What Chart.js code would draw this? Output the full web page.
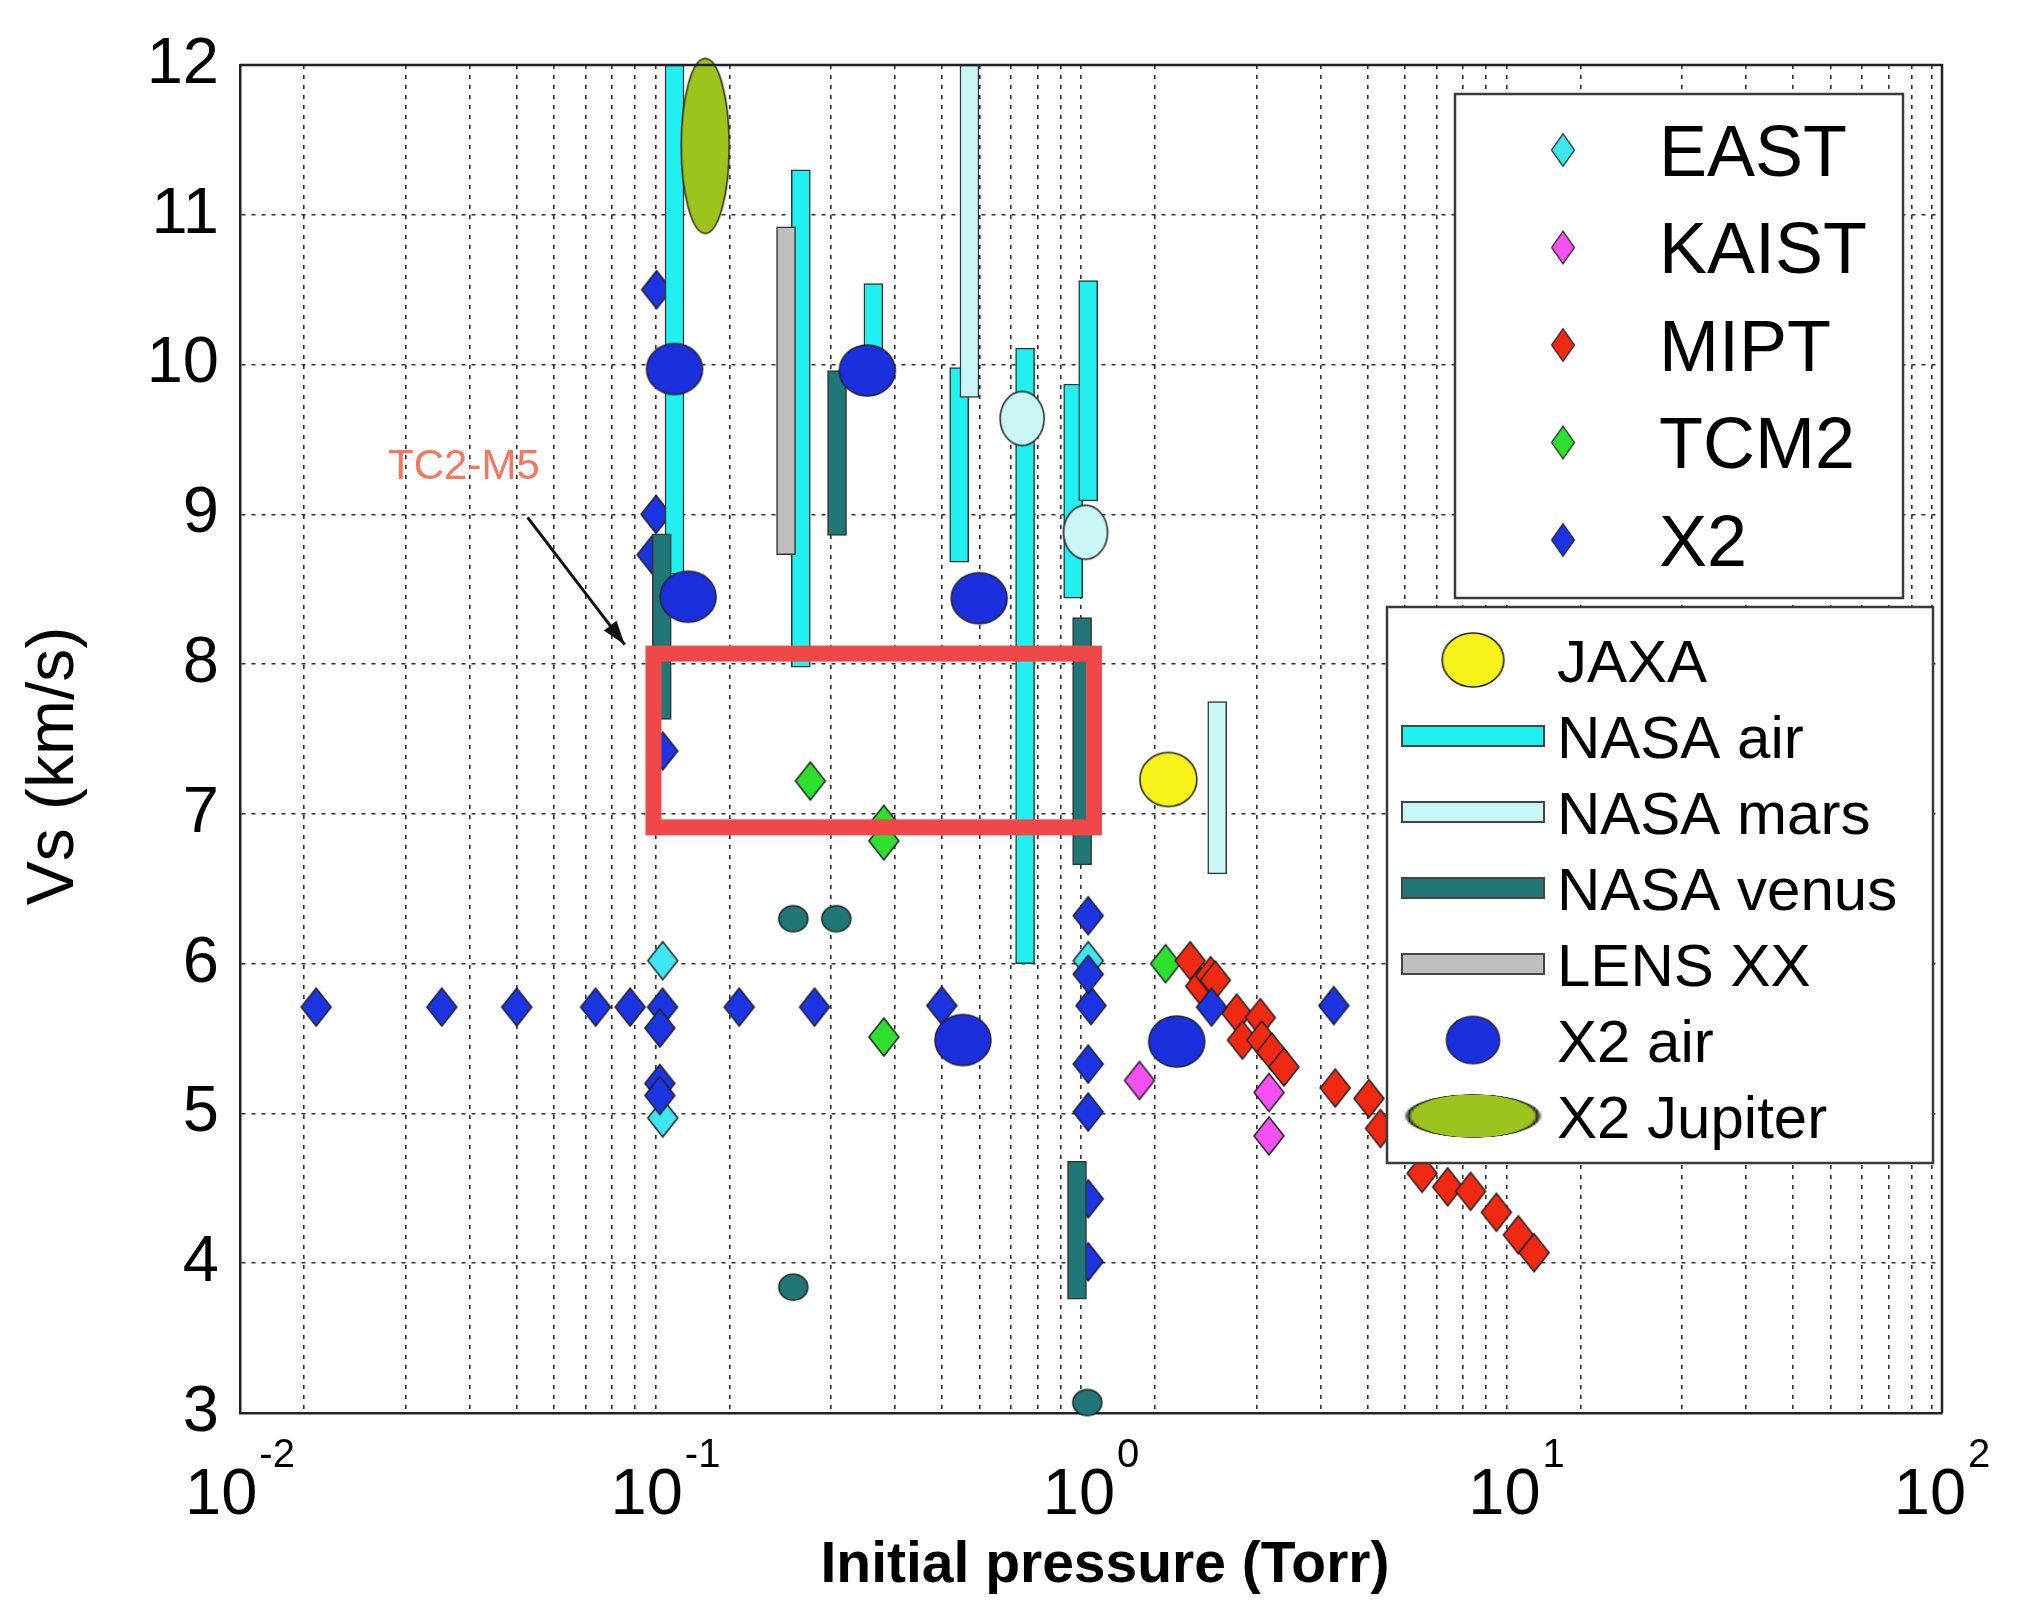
<!DOCTYPE html>
<html>
<head>
<meta charset="utf-8">
<script src="https://cdn.jsdelivr.net/npm/chart.js@4.4.0/dist/chart.umd.min.js"></script>
<style>
  html, body { margin: 0; padding: 0; background: #fff; }
  canvas { display: block; }
</style>
</head>
<body>
<canvas id="chart" width="2023" height="1612"></canvas>
<script>
// Values: initial pressure (Torr) vs shock speed Vs (km/s)
const eastP = [0.0985, 0.0985, 0.985];
const eastV = [6.02, 4.97, 6.02];

const kaistP = [1.30, 2.62, 2.62];
const kaistV = [5.22, 5.14, 4.85];

const miptP = [1.71, 1.81, 1.91, 1.96, 2.20, 2.27, 2.50, 2.52, 2.66, 2.84, 3.75, 4.50, 4.79, 6.0, 6.89, 7.80, 8.97, 10.1, 11.0];
const miptV = [6.02, 5.85, 5.92, 5.89, 5.67, 5.49, 5.64, 5.49, 5.41, 5.31, 5.17, 5.10, 4.90, 4.60, 4.51, 4.48, 4.34, 4.19, 4.07];

const tcm2P = [0.219, 0.326, 0.326, 0.326, 1.497];
const tcm2V = [7.22, 6.93, 6.82, 5.51, 6.0];

const x2P = [0.0151, 0.0298, 0.0447, 0.0685, 0.0826, 0.0984, 0.149, 0.224, 0.446, 1.0, 1.92, 3.72,
             0.097, 0.097, 0.097, 0.0985, 0.093, 0.095, 0.0953,
             0.985, 0.985, 0.985, 0.985, 0.985, 0.985];
const x2V = [5.71, 5.71, 5.71, 5.71, 5.71, 5.71, 5.71, 5.71, 5.72, 5.72, 5.71, 5.72,
             5.57, 5.20, 5.12, 7.42, 8.73, 9.0, 10.5,
             6.32, 5.93, 5.33, 5.01, 4.43, 4.01];

const jaxaP = [1.52];
const jaxaV = [7.23];

const x2AirP = [0.105, 0.113, 0.298, 0.546, 0.50, 1.59];
const x2AirV = [9.97, 8.45, 9.96, 8.44, 5.49, 5.48];

const jupiterP = [0.124];
const jupiterV = [11.46];

// NASA mars single points (pale ellipses) and NASA venus single points (teal dots)
const marsPtP = [0.689, 0.971];
const marsPtV = [9.64, 8.88];
const venusPtP = [0.1997, 0.252, 0.1997, 0.98];
const venusPtV = [6.30, 6.30, 3.84, 3.07];

// Vs ranges drawn as vertical bars
const nasaAirP = [0.105, 0.208, 0.308, 0.49, 0.70, 0.908, 0.985];
const nasaAirLo = [8.6, 7.98, 10.0, 8.68, 6.0, 8.44, 9.09];
const nasaAirHi = [12, 11.30, 10.54, 9.98, 10.11, 9.87, 10.56];

const nasaMarsP = [0.518, 1.98];
const nasaMarsLo = [9.78, 6.60];
const nasaMarsHi = [12, 7.75];

const nasaVenusP = [0.098, 0.253, 0.953, 0.927];
const nasaVenusLo = [7.63, 8.86, 6.66, 3.76];
const nasaVenusHi = [8.87, 9.96, 8.31, 4.68];

const lensP = [0.192];
const lensLo = [8.73];
const lensHi = [10.92];

// highlighted TC2-M5 window
const boxP = [0.0937, 1.016];
const boxV = [6.91, 8.07];

const xDecades = [-2, -1, 0, 1, 2];
const legendA = ['EAST', 'KAIST', 'MIPT', 'TCM2', 'X2'];
const legendB = ['JAXA', 'NASA air', 'NASA mars', 'NASA venus', 'LENS XX', 'X2 air', 'X2 Jupiter'];

const FONT = "'Liberation Sans', Arial, Helvetica, sans-serif";

// marker images (MATLAB markers are not square, so draw them ourselves)
function marker(kind, w, h, fill) {
  const c = document.createElement('canvas');
  c.width = w + 4;
  c.height = h + 4;
  const g = c.getContext('2d');
  g.beginPath();
  if (kind === 'diamond') {
    g.moveTo(c.width / 2, 2);
    g.lineTo(c.width - 2, c.height / 2);
    g.lineTo(c.width / 2, c.height - 2);
    g.lineTo(2, c.height / 2);
    g.closePath();
  } else {
    g.ellipse(c.width / 2, c.height / 2, w / 2, h / 2, 0, 0, Math.PI * 2);
  }
  g.fillStyle = fill;
  g.fill();
  g.lineWidth = 1.5;
  g.strokeStyle = '#222';
  g.stroke();
  return c;
}

const colors = {
  east: '#3fe6f0', kaist: '#f550f2', mipt: '#f02a12', tcm2: '#2ee02e', x2: '#1c34e2',
  jaxa: '#f7f21a', air: '#22f0f0', mars: '#c9f6f6', venus: '#217777', lens: '#bfbfbf',
  x2air: '#1c2fdc', jupiter: '#9cc41c'
};

function pts(xs, ys) {
  return xs.map((x, i) => ({ x: x, y: ys[i] }));
}
function ranges(xs, lo, hi) {
  return xs.map((x, i) => ({ x: x, y: [lo[i], hi[i]] }));
}
function scatterSet(label, xs, ys, img) {
  return { type: 'scatter', label: label, data: pts(xs, ys), pointStyle: img,
           pointRadius: 10, pointHoverRadius: 10, clip: false };
}
function barSet(label, xs, lo, hi, color) {
  return { type: 'bar', label: label, data: ranges(xs, lo, hi), backgroundColor: color,
           borderColor: '#333', borderWidth: 1.5, borderSkipped: false,
           barThickness: 19, grouped: false };
}

// index 0 is drawn on top
const datasets = [
  scatterSet('X2 air', x2AirP, x2AirV, marker('ellipse', 56, 51, colors.x2air)),
  scatterSet('NASA mars points', marsPtP, marsPtV, marker('ellipse', 44, 54, colors.mars)),
  scatterSet('JAXA', jaxaP, jaxaV, marker('ellipse', 57, 54, colors.jaxa)),
  scatterSet('NASA venus points', venusPtP, venusPtV, marker('ellipse', 29, 26, colors.venus)),
  scatterSet('X2 Jupiter', jupiterP, jupiterV, marker('ellipse', 48, 175, colors.jupiter)),
  barSet('NASA venus', nasaVenusP, nasaVenusLo, nasaVenusHi, colors.venus),
  barSet('LENS XX', lensP, lensLo, lensHi, colors.lens),
  barSet('NASA mars', nasaMarsP, nasaMarsLo, nasaMarsHi, colors.mars),
  barSet('NASA air', nasaAirP, nasaAirLo, nasaAirHi, colors.air),
  scatterSet('X2', x2P, x2V, marker('diamond', 30, 38, colors.x2)),
  scatterSet('MIPT', miptP, miptV, marker('diamond', 30, 38, colors.mipt)),
  scatterSet('TCM2', tcm2P, tcm2V, marker('diamond', 30, 38, colors.tcm2)),
  scatterSet('KAIST', kaistP, kaistV, marker('diamond', 30, 38, colors.kaist)),
  scatterSet('EAST', eastP, eastV, marker('diamond', 30, 38, colors.east))
];

// box frame, red window, arrow note
const overlayPlugin = {
  id: 'overlay',
  afterDatasetsDraw(chart) {
    const { ctx, chartArea: a, scales: { x, y } } = chart;
    ctx.save();
    // top and right edges of the axes box
    ctx.strokeStyle = '#222';
    ctx.lineWidth = 2.5;
    ctx.beginPath();
    ctx.moveTo(a.left, a.top);
    ctx.lineTo(a.right, a.top);
    ctx.lineTo(a.right, a.bottom);
    ctx.stroke();

    // red rectangle
    const x0 = x.getPixelForValue(boxP[0]), x1 = x.getPixelForValue(boxP[1]);
    const y0 = y.getPixelForValue(boxV[1]), y1 = y.getPixelForValue(boxV[0]);
    ctx.strokeStyle = '#f04848';
    ctx.lineWidth = 16;
    ctx.lineJoin = 'miter';
    ctx.strokeRect(x0, y0, x1 - x0, y1 - y0);

    // TC2-M5 label and arrow
    ctx.fillStyle = '#f4765e';
    ctx.font = '42px ' + FONT;
    ctx.textAlign = 'center';
    ctx.textBaseline = 'middle';
    ctx.fillText('TC2-M5', x.getPixelForValue(0.0336), y.getPixelForValue(9.31));
    const ax = x.getPixelForValue(0.0474), ay = y.getPixelForValue(8.98);
    const bx = x.getPixelForValue(0.0802), by = y.getPixelForValue(8.13);
    ctx.strokeStyle = '#111';
    ctx.lineWidth = 3;
    ctx.beginPath();
    ctx.moveTo(ax, ay);
    ctx.lineTo(bx, by);
    ctx.stroke();
    const ang = Math.atan2(by - ay, bx - ax);
    ctx.fillStyle = '#111';
    ctx.beginPath();
    ctx.moveTo(bx, by);
    ctx.lineTo(bx - 24 * Math.cos(ang) + 8 * Math.sin(ang), by - 24 * Math.sin(ang) - 8 * Math.cos(ang));
    ctx.lineTo(bx - 24 * Math.cos(ang) - 8 * Math.sin(ang), by - 24 * Math.sin(ang) + 8 * Math.cos(ang));
    ctx.closePath();
    ctx.fill();
    ctx.restore();
  },
  afterDraw(chart) {
    const { ctx, scales: { x } } = chart;
    ctx.save();
    ctx.fillStyle = '#000';
    // x tick labels 10^n
    xDecades.forEach(e => {
      const px = x.getPixelForValue(Math.pow(10, e));
      const base = '10', exp = String(e);
      ctx.font = '65px ' + FONT;
      const w1 = ctx.measureText(base).width;
      ctx.font = '40px ' + FONT;
      const w2 = ctx.measureText(exp).width;
      const left = px - (w1 + w2 + 2) / 2;
      ctx.textAlign = 'left';
      ctx.textBaseline = 'alphabetic';
      ctx.font = '65px ' + FONT;
      ctx.fillText(base, left, 1514);
      ctx.font = '40px ' + FONT;
      ctx.fillText(exp, left + w1 + 2, 1467);
    });
    // axis titles
    ctx.textAlign = 'center';
    ctx.font = 'bold 57px ' + FONT;
    ctx.fillText('Initial pressure (Torr)', 1105, 1582);
    ctx.translate(73, 766);
    ctx.rotate(-Math.PI / 2);
    ctx.font = '66px ' + FONT;
    ctx.fillText('Vs (km/s)', 0, 0);
    ctx.restore();

    // the two legend boxes
    drawLegend(chart, legendA, { left: 1455, top: 94, right: 1903, bottom: 598 },
               150, 97.5, 1563, 1659, 72, { dw: 26, dh: 36 });
    drawLegend(chart, legendB, { left: 1387, top: 607, right: 1933, bottom: 1163 },
               660, 76, 1473, 1557, 60, null);
  }
};

function drawLegend(chart, labels, box, y0, dy, mx, tx, fontSize, diamond) {
  const ctx = chart.ctx;
  ctx.save();
  ctx.fillStyle = '#fff';
  ctx.fillRect(box.left, box.top, box.right - box.left, box.bottom - box.top);
  ctx.strokeStyle = '#3a3a3a';
  ctx.lineWidth = 2.5;
  ctx.strokeRect(box.left, box.top, box.right - box.left, box.bottom - box.top);
  const sizes = { 'JAXA': [66, 58], 'X2 air': [57, 51], 'X2 Jupiter': [141, 44] };
  labels.forEach((label, i) => {
    const ds = chart.data.datasets.find(d => d.label === label);
    const cy = y0 + dy * i;
    if (ds.type === 'bar') {
      ctx.fillStyle = ds.backgroundColor;
      ctx.fillRect(mx - 71, cy - 10, 142, 20);
      ctx.strokeStyle = '#444';
      ctx.lineWidth = 2;
      ctx.strokeRect(mx - 71, cy - 10, 142, 20);
    } else {
      const img = ds.pointStyle;
      const s = diamond ? [diamond.dw, diamond.dh] : sizes[label];
      ctx.drawImage(img, mx - s[0] / 2, cy - s[1] / 2, s[0], s[1]);
    }
    ctx.fillStyle = '#000';
    ctx.font = fontSize + 'px ' + FONT;
    ctx.textAlign = 'left';
    ctx.textBaseline = 'alphabetic';
    ctx.fillText(label, tx, cy + 0.36 * fontSize);
  });
  ctx.restore();
}

const gridOpts = { color: '#2e2e2e', lineWidth: 1.6, drawTicks: false };
const borderOpts = { display: true, color: '#222', width: 2.5, dash: [4, 6] };

new Chart(document.getElementById('chart'), {
  type: 'scatter',
  data: { datasets: datasets },
  options: {
    responsive: false,
    animation: false,
    devicePixelRatio: 1,
    layout: { padding: { top: 65, right: 81, left: 0, bottom: 0 } },
    plugins: { legend: { display: false }, tooltip: { enabled: false } },
    scales: {
      x: {
        type: 'logarithmic',
        min: 0.01,
        max: 100,
        afterBuildTicks: scale => {
          const t = [];
          for (let e = -2; e <= 1; e++) {
            for (let m = 1; m <= 9; m++) t.push({ value: m * Math.pow(10, e) });
          }
          t.push({ value: 100 });
          scale.ticks = t;
        },
        afterFit: scale => { scale.height = 199; },
        ticks: { display: false },
        grid: gridOpts,
        border: borderOpts
      },
      y: {
        type: 'linear',
        min: 3,
        max: 12,
        afterFit: scale => { scale.width = 240; },
        ticks: { stepSize: 1, padding: 21, color: '#000', font: { family: FONT, size: 65 } },
        grid: gridOpts,
        border: borderOpts
      }
    }
  },
  plugins: [overlayPlugin]
});
</script>
</body>
</html>
